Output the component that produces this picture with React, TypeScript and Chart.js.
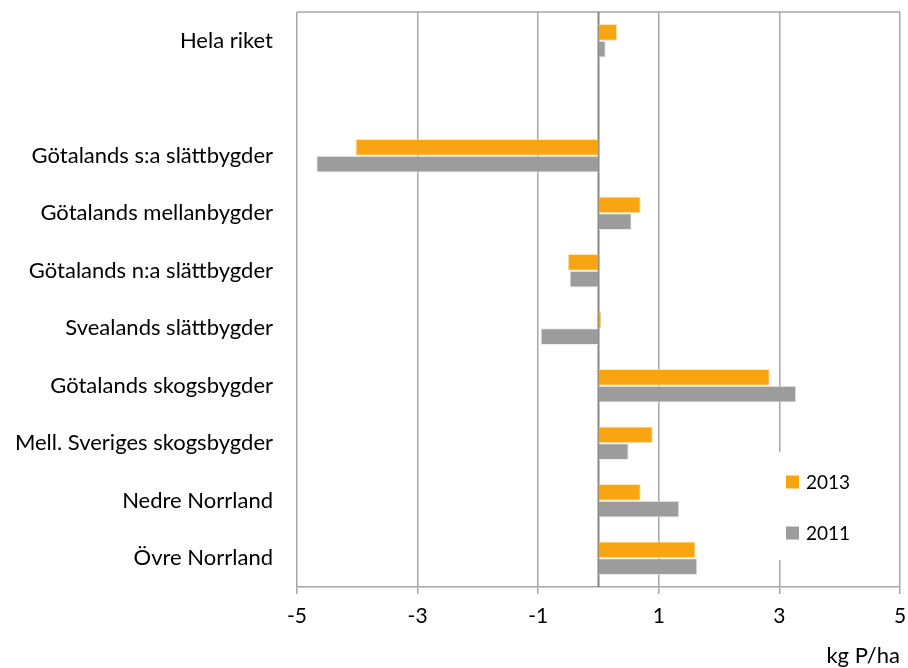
import React, { useEffect, useRef } from "react";
import { Chart, registerables } from "chart.js";

Chart.register(...registerables);

const categories = [
  "Hela riket",
  "",
  "Götalands s:a slättbygder",
  "Götalands mellanbygder",
  "Götalands n:a slättbygder",
  "Svealands slättbygder",
  "Götalands skogsbygder",
  "Mell. Sveriges skogsbygder",
  "Nedre Norrland",
  "Övre Norrland",
];
const series2013 = [0.31, null, -4.03, 0.7, -0.51, 0.05, 2.84, 0.9, 0.7, 1.61];
const series2011 = [0.12, null, -4.68, 0.55, -0.48, -0.96, 3.28, 0.5, 1.34, 1.64];
const xTicks = [-5, -3, -1, 1, 3, 5];
const xTitle = "kg P/ha";
const seriesLabels = ["2013", "2011"];

const ORANGE = "#F9A512";
const GRAY = "#9C9C9C";
const GRID = "#A6A6A6";
const AXIS = "#868686";
const FONT = "Lato, 'Open Sans', sans-serif";

const overlayPlugin = {
  id: "overlay",
  beforeDatasetsDraw(chart: any) {
    const { ctx, chartArea } = chart;
    const x = chart.scales.x;
    ctx.save();
    ctx.strokeStyle = GRID;
    ctx.lineWidth = 1.5;
    ctx.beginPath();
    ctx.moveTo(chartArea.left, chartArea.top);
    ctx.lineTo(chartArea.right, chartArea.top);
    ctx.stroke();
    const x0 = x.getPixelForValue(0);
    ctx.strokeStyle = AXIS;
    ctx.lineWidth = 2;
    ctx.beginPath();
    ctx.moveTo(x0, chartArea.top);
    ctx.lineTo(x0, chartArea.bottom);
    ctx.stroke();
    ctx.fillStyle = "#FFFFFF";
    ctx.fillRect(chartArea.right - 130, chartArea.bottom - 135, 126, 108);
    ctx.restore();
  },
  afterDatasetsDraw(chart: any) {
    const { ctx, chartArea } = chart;
    ctx.save();
    const ds = chart.data.datasets;
    const ys = [chartArea.bottom - 105, chartArea.bottom - 54];
    ds.forEach((d: any, i: number) => {
      const cy = ys[i];
      ctx.fillStyle = d.backgroundColor;
      ctx.fillRect(chartArea.right - 114, cy - 6.5, 13, 13);
      ctx.fillStyle = "#000";
      ctx.font = `19px ${FONT}`;
      ctx.textBaseline = "middle";
      ctx.textAlign = "left";
      ctx.fillText(d.label, chartArea.right - 94, cy + 1);
    });
    ctx.restore();
  },
  afterDraw(chart: any) {
    const { ctx, chartArea } = chart;
    ctx.save();
    ctx.fillStyle = "#000";
    ctx.font = `22px ${FONT}`;
    ctx.textAlign = "right";
    ctx.textBaseline = "alphabetic";
    ctx.fillText(xTitle, chartArea.right, chartArea.bottom + 76);
    ctx.restore();
  },
};

export default function App() {
  const ref = useRef<HTMLCanvasElement | null>(null);
  useEffect(() => {
    if (!ref.current) return;
    const chart = new Chart(ref.current, {
      type: "bar",
      data: {
        labels: categories,
        datasets: [
          {
            label: seriesLabels[0],
            data: series2013 as any,
            backgroundColor: ORANGE,
            borderColor: "rgba(255,220,150,0.7)",
            borderWidth: 1,
            categoryPercentage: 0.585,
            barPercentage: 1,
          },
          {
            label: seriesLabels[1],
            data: series2011 as any,
            backgroundColor: GRAY,
            borderColor: "rgba(230,230,230,0.7)",
            borderWidth: 1,
            categoryPercentage: 0.585,
            barPercentage: 1,
          },
        ],
      },
      options: {
        indexAxis: "y",
        animation: false,
        responsive: false,
        maintainAspectRatio: false,
        layout: { padding: { top: 12, right: 8, left: 0, bottom: 0 } },
        plugins: {
          legend: { display: false },
          tooltip: { enabled: false },
        },
        scales: {
          x: {
            type: "linear",
            min: -5,
            max: 5,
            afterBuildTicks: (scale: any) => {
              scale.ticks = xTicks.map((v) => ({ value: v }));
            },
            afterFit: (scale: any) => {
              scale.height = 81;
              scale.paddingLeft = 0;
              scale.paddingRight = 0;
              scale.paddingTop = 0;
              scale.paddingBottom = 0;
            },
            grid: {
              color: GRID,
              lineWidth: 1.5,
              tickLength: 7,
              drawTicks: true,
            },
            border: { display: true, color: GRID, width: 1.5 },
            ticks: {
              color: "#000",
              font: { family: FONT, size: 21 },
              padding: 10,
              maxRotation: 0,
              callback: (v: any) => String(v),
            },
            title: { display: false },
          },
          y: {
            type: "category",
            afterFit: (scale: any) => {
              scale.width = 297;
              scale.paddingLeft = 0;
              scale.paddingRight = 0;
              scale.paddingTop = 0;
              scale.paddingBottom = 0;
            },
            grid: { display: false, drawTicks: false },
            border: { display: false },
            ticks: {
              color: "#000",
              font: { family: FONT, size: 22 },
              padding: 24,
              autoSkip: false,
            },
          },
        },
      } as any,
      plugins: [overlayPlugin],
    });
    return () => chart.destroy();
  }, []);
  return (
    <div style={{ position: "fixed", left: 0, top: 0, width: 908, height: 668, background: "#fff" }}>
      <canvas ref={ref} width={908} height={668} style={{ width: 908, height: 668 }} />
    </div>
  );
}
